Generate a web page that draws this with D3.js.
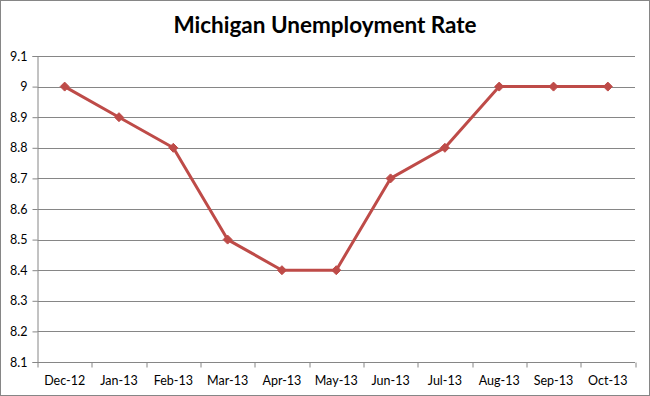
<!DOCTYPE html>
<html>
<head>
<meta charset="utf-8">
<script src="https://cdn.jsdelivr.net/npm/d3@7"></script>
<style>
  body { margin: 0; background: #fff; }
  svg { display: block; }
</style>
</head>
<body>
<svg id="chart" width="650" height="396"></svg>
<script>
const months = ["Dec-12", "Jan-13", "Feb-13", "Mar-13", "Apr-13", "May-13",
  "Jun-13", "Jul-13", "Aug-13", "Sep-13", "Oct-13"];
const rates = [9.0, 8.9, 8.8, 8.5, 8.4, 8.4, 8.7, 8.8, 9.0, 9.0, 9.0];
const yTicks = [8.1, 8.2, 8.3, 8.4, 8.5, 8.6, 8.7, 8.8, 8.9, 9.0, 9.1];

const W = 650, H = 396;
const margin = { top: 56, right: 15, bottom: 34, left: 37.5 };
const innerW = W - margin.left - margin.right;
const innerH = H - margin.top - margin.bottom;
const FONT = "Lato, Carlito, Calibri, 'Liberation Sans', sans-serif";
const GRID = "#868686";
const RED = "#be4b48";

const svg = d3.select("#chart");

// outer chart border
svg.append("rect")
  .attr("x", 0.5).attr("y", 0.5)
  .attr("width", W - 1).attr("height", H - 1)
  .attr("fill", "#fff").attr("stroke", "#868686");

svg.append("text")
  .attr("x", W / 2).attr("y", 33)
  .attr("text-anchor", "middle")
  .attr("font-family", FONT)
  .attr("font-weight", "bold")
  .attr("font-size", 22.5)
  .attr("fill", "#000")
  .text("Michigan Unemployment Rate");

const x = d3.scaleBand().domain(months).range([0, innerW]);
const y = d3.scaleLinear().domain([8.1, 9.1]).range([innerH, 0]);

const g = svg.append("g").attr("transform", `translate(${margin.left},${margin.top})`);

// horizontal gridlines
g.append("g")
  .selectAll("line")
  .data(yTicks)
  .join("line")
  .attr("x1", 0).attr("x2", innerW)
  .attr("y1", d => Math.round(y(d)) + 0.5)
  .attr("y2", d => Math.round(y(d)) + 0.5)
  .attr("stroke", GRID);

// y axis
const gy = g.append("g")
  .call(d3.axisLeft(y).tickValues(yTicks).tickSize(5).tickPadding(5)
    .tickFormat(d => d3.format("~g")(d)));
gy.select(".domain").attr("stroke", GRID);
gy.selectAll(".tick line").attr("stroke", GRID);
gy.selectAll("text").attr("font-family", FONT).attr("font-size", 12.5).attr("fill", "#000");

// x axis: ticks at category boundaries
const gx = g.append("g").attr("transform", `translate(0,${Math.round(innerH) + 0.5})`);
gx.append("line").attr("x1", 0).attr("x2", innerW).attr("stroke", GRID);
gx.selectAll("line.tk")
  .data(d3.range(months.length + 1))
  .join("line")
  .attr("class", "tk")
  .attr("x1", i => Math.round(i * x.step()) + 0.5)
  .attr("x2", i => Math.round(i * x.step()) + 0.5)
  .attr("y1", 0).attr("y2", 5)
  .attr("stroke", GRID);
gx.selectAll("text")
  .data(months)
  .join("text")
  .attr("x", d => x(d) + x.bandwidth() / 2)
  .attr("y", 22)
  .attr("text-anchor", "middle")
  .attr("font-family", FONT)
  .attr("font-size", 12.5)
  .attr("fill", "#000")
  .text(d => d);

const cx = (d, i) => x(months[i]) + x.bandwidth() / 2;

g.append("path")
  .datum(rates)
  .attr("fill", "none")
  .attr("stroke", RED)
  .attr("stroke-width", 3)
  .attr("stroke-linejoin", "round")
  .attr("d", d3.line().x(cx).y(d => y(d)));

g.selectAll("path.marker")
  .data(rates)
  .join("path")
  .attr("class", "marker")
  .attr("transform", (d, i) => `translate(${cx(d, i)},${y(d)})`)
  .attr("d", "M0,-4.5L4.5,0L0,4.5L-4.5,0Z")
  .attr("fill", RED)
  .attr("stroke", RED)
  .attr("stroke-width", 1);
</script>
</body>
</html>
